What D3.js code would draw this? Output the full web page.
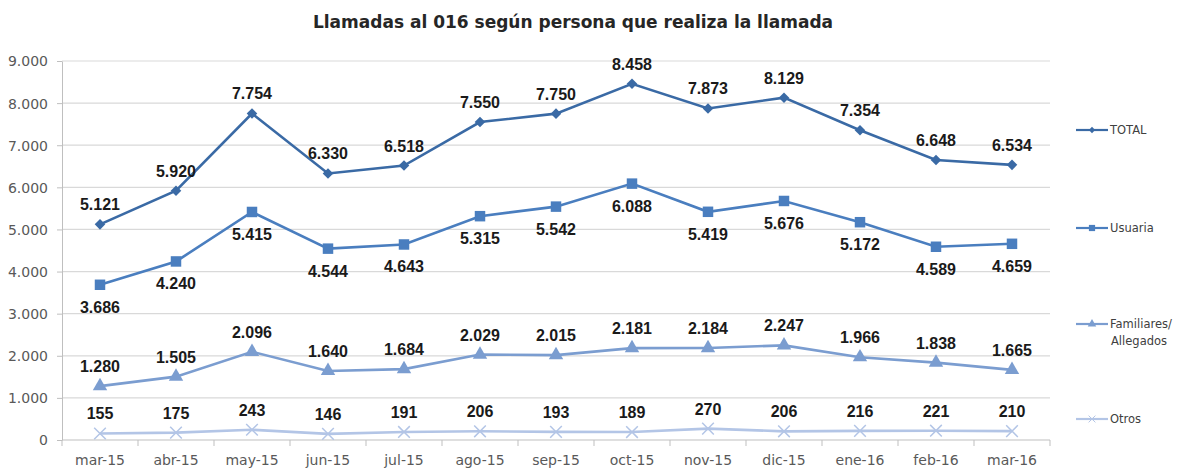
<!DOCTYPE html>
<html>
<head>
<meta charset="utf-8">
<script src="https://cdn.jsdelivr.net/npm/d3@7"></script>
<style>
  body { margin: 0; background: #fff; }
  .axis text { font-family: "DejaVu Sans", sans-serif; font-size: 14px; fill: #595959; }
  .axis path, .axis line { stroke: #bfbfbf; }
</style>
</head>
<body>
<svg id="chart" width="1177" height="470"></svg>
<script>

/****** Data ******/

var months = ["mar-15", "abr-15", "may-15", "jun-15", "jul-15", "ago-15", "sep-15",
              "oct-15", "nov-15", "dic-15", "ene-16", "feb-16", "mar-16"];

var total      = [5121, 5920, 7754, 6330, 6518, 7550, 7750, 8458, 7873, 8129, 7354, 6648, 6534];
var usuaria    = [3686, 4240, 5415, 4544, 4643, 5315, 5542, 6088, 5419, 5676, 5172, 4589, 4659];
var familiares = [1280, 1505, 2096, 1640, 1684, 2029, 2015, 2181, 2184, 2247, 1966, 1838, 1665];
var otros      = [155, 175, 243, 146, 191, 206, 193, 189, 270, 206, 216, 221, 210];

var yTicks = [0, 1000, 2000, 3000, 4000, 5000, 6000, 7000, 8000, 9000];

var titleText = "Llamadas al 016 según persona que realiza la llamada";

/****** Series setup ******/

// diamond drawn as a square turned 45 degrees
var series = [
  {name: ["TOTAL"], values: total, color: "#3a6aa5", symbol: d3.symbolSquare, rot: 45, size: 56, label: "above", legendY: 130},
  {name: ["Usuaria"], values: usuaria, color: "#4a7ebf", symbol: d3.symbolSquare, rot: 0, size: 110, label: "below", legendY: 228},
  {name: ["Familiares/", "Allegados"], values: familiares, color: "#7b9dd0", symbol: d3.symbolTriangle, rot: 0, size: 90, label: "above", legendY: 324},
  {name: ["Otros"], values: otros, color: "#b3c5e6", symbol: d3.symbolX, rot: 0, size: 90, label: "above", legendY: 419}
];

var svg = d3.select("#chart");

var margin = {top: 61, right: 127, bottom: 30, left: 62},
    width = 1177 - margin.left - margin.right,
    height = 440 - margin.top;

var x = d3.scaleBand().domain(months).range([margin.left, margin.left + width]);
var y = d3.scaleLinear().domain([0, 9000]).range([440, margin.top]);

var fmt = d3.formatLocale({decimal: ",", thousands: ".", grouping: [3], currency: ["", "€"]}).format(",");

// title
svg.append("text")
   .attr("x", 573)
   .attr("y", 28)
   .attr("text-anchor", "middle")
   .style("font-family", "DejaVu Sans, sans-serif")
   .style("font-weight", "bold")
   .style("font-size", "17px")
   .style("fill", "#262626")
   .text(titleText);

// gridlines
svg.append("g")
   .selectAll("line")
   .data(yTicks.filter(function (d) { return d > 0; }))
   .join("line")
   .attr("x1", margin.left)
   .attr("x2", margin.left + width)
   .attr("y1", function (d) { return y(d); })
   .attr("y2", function (d) { return y(d); })
   .attr("stroke", "#d9d9d9")
   .attr("stroke-width", 1.2);

// y axis
svg.append("g")
   .attr("class", "axis")
   .attr("transform", "translate(" + margin.left + ",0)")
   .call(d3.axisLeft(y).tickValues(yTicks).tickFormat(fmt).tickSize(5).tickPadding(9).tickSizeOuter(0))
   .call(function (g) { g.selectAll("text").attr("dy", "0.35em"); });

// x axis with ticks between categories
var xAxis = svg.append("g")
   .attr("class", "axis")
   .attr("transform", "translate(0,440)");

xAxis.append("line")
   .attr("x1", margin.left).attr("x2", margin.left + width)
   .attr("stroke", "#bfbfbf").attr("stroke-width", 1.2);

xAxis.selectAll("line.tick")
   .data(months.concat(["end"]))
   .join("line")
   .attr("class", "tick")
   .attr("x1", function (d, i) { return margin.left + i * x.step(); })
   .attr("x2", function (d, i) { return margin.left + i * x.step(); })
   .attr("y1", 0).attr("y2", 6)
   .attr("stroke", "#bfbfbf");

xAxis.selectAll("text")
   .data(months)
   .join("text")
   .attr("x", function (d) { return x(d) + x.bandwidth() / 2; })
   .attr("y", 25)
   .attr("text-anchor", "middle")
   .text(function (d) { return d; });

// lines, markers, labels
var line = d3.line()
   .x(function (d, i) { return x(months[i]) + x.bandwidth() / 2; })
   .y(function (d) { return y(d); });

series.forEach(function (s) {
  var g = svg.append("g");
  var isX = s.symbol === d3.symbolX;

  g.append("path")
   .datum(s.values)
   .attr("d", line)
   .attr("fill", "none")
   .attr("stroke", s.color)
   .attr("stroke-width", 2.6);

  var sym = d3.symbol().type(s.symbol).size(s.size);

  g.selectAll("path.mark")
   .data(s.values)
   .join("path")
   .attr("class", "mark")
   .attr("d", sym)
   .attr("transform", function (d, i) {
     var px = x(months[i]) + x.bandwidth() / 2;
     return "translate(" + px + "," + y(d) + ") rotate(" + s.rot + ")";
   })
   .attr("fill", isX ? "none" : s.color)
   .attr("stroke", isX ? s.color : "none")
   .attr("stroke-width", 1.5);

  g.selectAll("text")
   .data(s.values)
   .join("text")
   .attr("x", function (d, i) { return x(months[i]) + x.bandwidth() / 2; })
   .attr("y", function (d) { return s.label === "above" ? y(d) - 14 : y(d) + 28; })
   .attr("text-anchor", "middle")
   .style("font-family", "Liberation Sans, Arial, sans-serif")
   .style("font-weight", "bold")
   .style("font-size", "16px")
   .style("fill", "#1a1a1a")
   .text(function (d) { return fmt(d); });

  // legend
  var lg = svg.append("g").attr("transform", "translate(1076," + s.legendY + ")");
  lg.append("line").attr("x1", 0).attr("x2", 32).attr("stroke", s.color).attr("stroke-width", 2.2);
  lg.append("path")
    .attr("d", d3.symbol().type(s.symbol).size(s.size * 0.35))
    .attr("transform", "translate(16,0) rotate(" + s.rot + ")")
    .attr("fill", isX ? "none" : s.color)
    .attr("stroke", isX ? s.color : "none");
  lg.selectAll("text")
    .data(s.name)
    .join("text")
    .attr("x", 34)
    .attr("y", function (d, i) { return i * 17; })
    .attr("dy", "0.35em")
    .attr("dx", function (d, i) { return i === 0 ? 0 : 1; })
    .style("font-family", "DejaVu Sans, sans-serif")
    .style("font-size", "11.5px")
    .style("fill", "#404040")
    .text(function (d) { return d; });
});

</script>
</body>
</html>
